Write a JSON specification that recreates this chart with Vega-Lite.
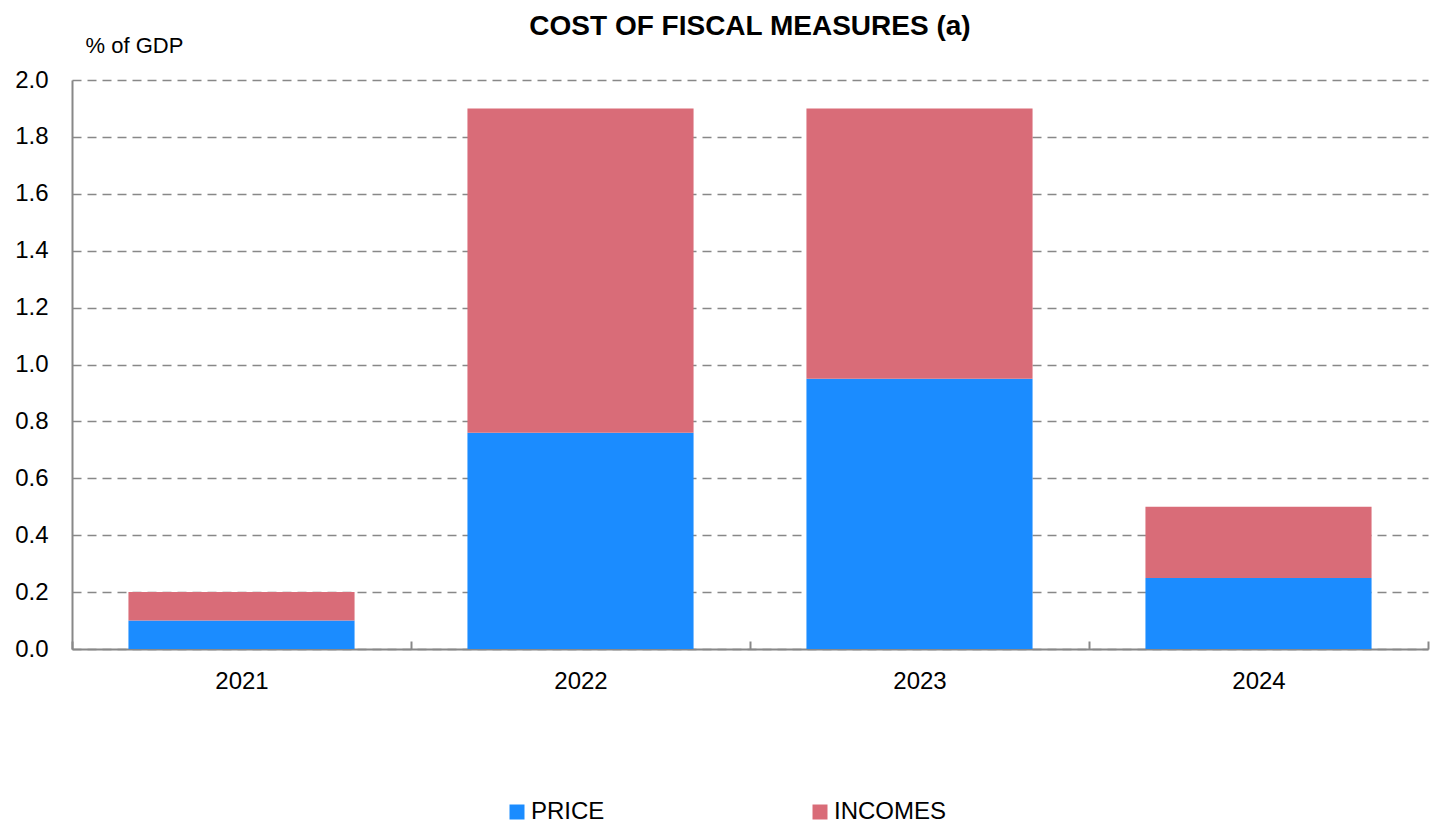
{
  "$schema": "https://vega.github.io/schema/vega-lite/v6.json",
  "width": 1356,
  "height": 569,
  "autosize": {"type": "none"},
  "padding": {"left": 72, "top": 80, "right": 7, "bottom": 180},
  "background": "white",
  "title": {
    "text": "COST OF FISCAL MEASURES (a)",
    "font": "Liberation Sans",
    "fontSize": 28,
    "fontWeight": "bold",
    "color": "#000000",
    "anchor": "middle",
    "frame": "group",
    "offset": -7
  },
  "data": {
    "values": [
      {"year": "2021", "type": "PRICE", "value": 0.10},
      {"year": "2021", "type": "INCOMES", "value": 0.10},
      {"year": "2022", "type": "PRICE", "value": 0.76},
      {"year": "2022", "type": "INCOMES", "value": 1.14},
      {"year": "2023", "type": "PRICE", "value": 0.95},
      {"year": "2023", "type": "INCOMES", "value": 0.95},
      {"year": "2024", "type": "PRICE", "value": 0.25},
      {"year": "2024", "type": "INCOMES", "value": 0.25}
    ]
  },
  "mark": {"type": "bar", "width": {"band": 0.667}},
  "encoding": {
    "x": {
      "field": "year",
      "type": "nominal",
      "scale": {"paddingInner": 0, "paddingOuter": 0},
      "axis": {
        "title": null,
        "labelAngle": 0,
        "labelFont": "Liberation Sans",
        "labelFontSize": 24,
        "labelColor": "#000000",
        "labelPadding": 28,
        "tickBand": "extent",
        "tickSize": -8,
        "tickColor": "#888888",
        "tickWidth": 2,
        "domainColor": "#888888",
        "domainWidth": 2,
        "grid": false
      }
    },
    "y": {
      "field": "value",
      "type": "quantitative",
      "stack": "zero",
      "scale": {"domain": [0, 2.0], "nice": false},
      "axis": {
        "title": "% of GDP",
        "titleAngle": 0,
        "titleAlign": "left",
        "titleBaseline": "alphabetic",
        "titleX": 13,
        "titleY": -28,
        "titleFont": "Liberation Sans",
        "titleFontSize": 22,
        "titleFontWeight": "normal",
        "titleColor": "#000000",
        "values": [0, 0.2, 0.4, 0.6, 0.8, 1.0, 1.2, 1.4, 1.6, 1.8, 2.0],
        "format": ".1f",
        "labelFont": "Liberation Sans",
        "labelFontSize": 24,
        "labelColor": "#000000",
        "labelPadding": 24,
        "ticks": false,
        "domainColor": "#888888",
        "domainWidth": 2,
        "grid": true,
        "gridColor": "#888888",
        "gridWidth": 1.5,
        "gridDash": [9, 6]
      }
    },
    "color": {
      "field": "type",
      "type": "nominal",
      "scale": {"domain": ["PRICE", "INCOMES"], "range": ["#1B8CFF", "#D96C78"]},
      "legend": {
        "title": null,
        "orient": "none",
        "legendX": 433,
        "legendY": 720,
        "direction": "horizontal",
        "columns": 2,
        "columnPadding": 203,
        "symbolType": "square",
        "symbolSize": 225,
        "symbolStrokeWidth": 0,
        "labelFont": "Liberation Sans",
        "labelFontSize": 24,
        "labelColor": "#000000",
        "labelOffset": 2
      }
    },
    "order": {"field": "type", "sort": "descending"}
  },
  "config": {"view": {"stroke": null}}
}
